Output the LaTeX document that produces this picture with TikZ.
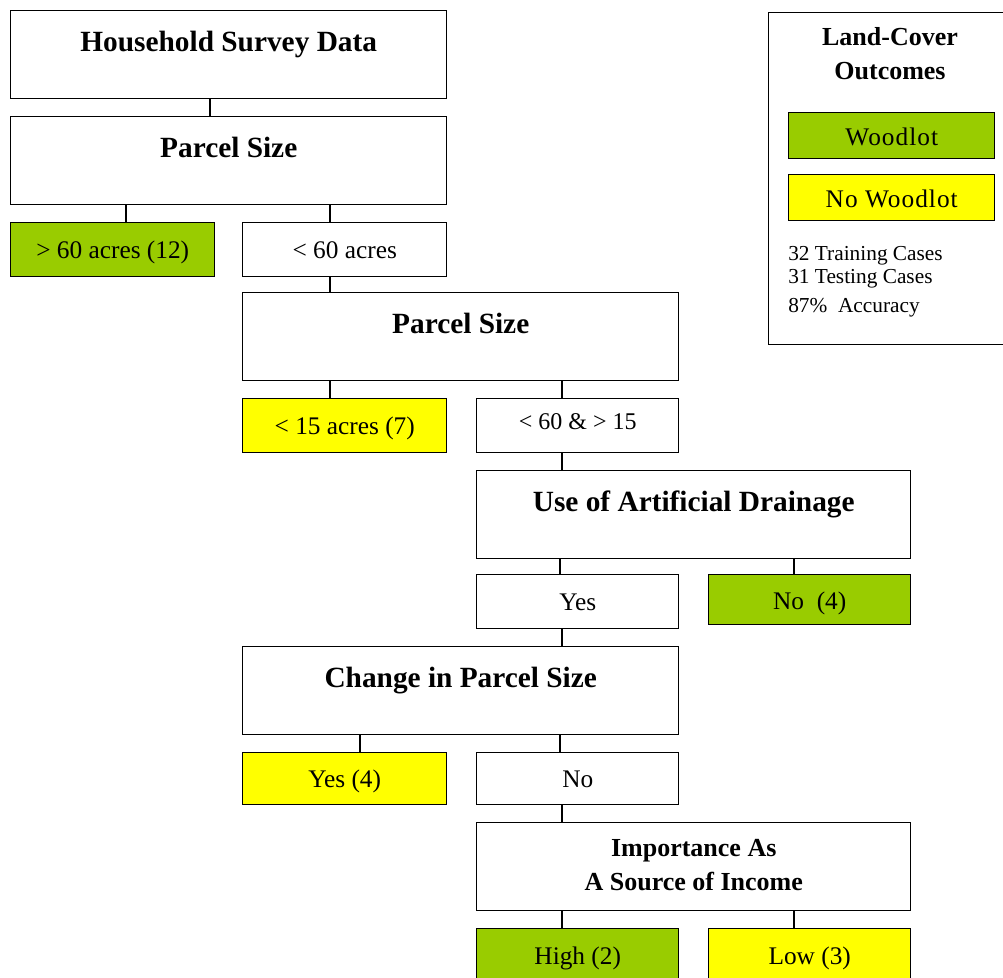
\documentclass[tikz,border=0pt]{standalone}
\usepackage{fontspec}
\setmainfont{Liberation Serif}
\definecolor{wood}{HTML}{99CC00}
\definecolor{nowood}{HTML}{FFFF00}
\tikzset{
  box/.style={draw, line width=1.1pt, anchor=north west, inner sep=0pt, align=center},
  big/.style={box, minimum width=#1*0.75pt, minimum height=66pt,
    font=\bfseries\fontsize{22}{24}\selectfont, text height=30.75pt, text depth=35.25pt},
  big/.default=436,
  leaf/.style={box, minimum width=#1*0.75pt, minimum height=40.5pt,
    font=\fontsize{19}{22}\selectfont, text height=13.5pt, text depth=0pt},
  leaf/.default=204,
  woodbox/.style={fill=wood},
  nowoodbox/.style={fill=nowood},
  conn/.style={line width=1.1pt},
  stat/.style={anchor=base west, inner sep=0pt, font=\fontsize{16}{18}\selectfont},
}
\begin{document}
\begin{tikzpicture}[x=0.75pt,y=-0.75pt]
\useasboundingbox (0,0) rectangle (1003,978);
% decision tree
\node[big] (b1) at (10,10) {Household Survey Data};
\node[big] (b2) at (10,116) {Parcel Size};
\node[leaf, woodbox] (l1) at (10,222) {> 60 acres (12)};
\node[leaf] (n1) at (242,222) {< 60 acres};
\node[big] (b3) at (242,292) {Parcel Size};
\node[leaf, nowoodbox] (l2) at (242,398) {< 15 acres (7)};
\node[leaf=202, font=\fontsize{18}{20}\selectfont, text height=6pt] (n2) at (476,398) {< 60 \& > 15};
\node[big=434] (b4) at (476,470) {Use of Artificial Drainage};
\node[leaf=202] (n3) at (476,574) {Yes};
\node[leaf=202, woodbox, minimum height=37.5pt, text height=14pt] (l3) at (708,574) {No\ \ (4)};
\node[big] (b5) at (242,646) {Change in Parcel Size};
\node[leaf, nowoodbox, minimum height=39pt, text height=12.75pt] (l4) at (242,752) {Yes (4)};
\node[leaf=202, minimum height=39pt, text height=12.75pt] (n4) at (476,752) {No};
\node[big=434, font=\bfseries\fontsize{19.5}{25.5}\selectfont, text height=51pt, text depth=15pt] (b6) at (476,822) {Importance As\\A Source of Income};
\node[leaf=202, woodbox] (l5) at (476,928) {High (2)};
\node[leaf=202, nowoodbox] (l6) at (708,928) {Low (3)};
% connectors
\draw[conn] (b1.south -| 210,0) -- (b2.north -| 210,0);
\draw[conn] (b2.south -| 126,0) -- (l1.north -| 126,0);
\draw[conn] (b2.south -| 330,0) -- (n1.north -| 330,0);
\draw[conn] (n1.south -| 330,0) -- (b3.north -| 330,0);
\draw[conn] (b3.south -| 330,0) -- (l2.north -| 330,0);
\draw[conn] (b3.south -| 562,0) -- (n2.north -| 562,0);
\draw[conn] (n2.south -| 562,0) -- (b4.north -| 562,0);
\draw[conn] (b4.south -| 560,0) -- (n3.north -| 560,0);
\draw[conn] (b4.south -| 794,0) -- (l3.north -| 794,0);
\draw[conn] (n3.south -| 562,0) -- (b5.north -| 562,0);
\draw[conn] (b5.south -| 360,0) -- (l4.north -| 360,0);
\draw[conn] (b5.south -| 560,0) -- (n4.north -| 560,0);
\draw[conn] (n4.south -| 562,0) -- (b6.north -| 562,0);
\draw[conn] (b6.south -| 562,0) -- (l5.north -| 562,0);
\draw[conn] (b6.south -| 794,0) -- (l6.north -| 794,0);
% legend
\node[box, minimum width=183pt, minimum height=249pt] (leg) at (768,12) {};
\node[anchor=base, inner sep=0pt, font=\bfseries\fontsize{19.5}{25.5}\selectfont] (lt1) at (890,45) {Land-Cover};
\node[anchor=base, inner sep=0pt, font=\bfseries\fontsize{19.5}{25.5}\selectfont] (lt2) at (890,79) {Outcomes};
\node[leaf=206, woodbox, minimum height=34.5pt, text height=15pt] (wl) at (788,112) {\addfontfeature{LetterSpace=4}Woodlot};
\node[leaf=206, nowoodbox, minimum height=34.5pt, text height=15pt] (nwl) at (788,174) {\addfontfeature{LetterSpace=4}No Woodlot};
\node[stat] (s1) at (788,260) {32 Training Cases};
\node[stat] (s2) at (788,283) {31 Testing Cases};
\node[stat] (s3) at (788,312) {87\%\ \ Accuracy};
\end{tikzpicture}
\end{document}
